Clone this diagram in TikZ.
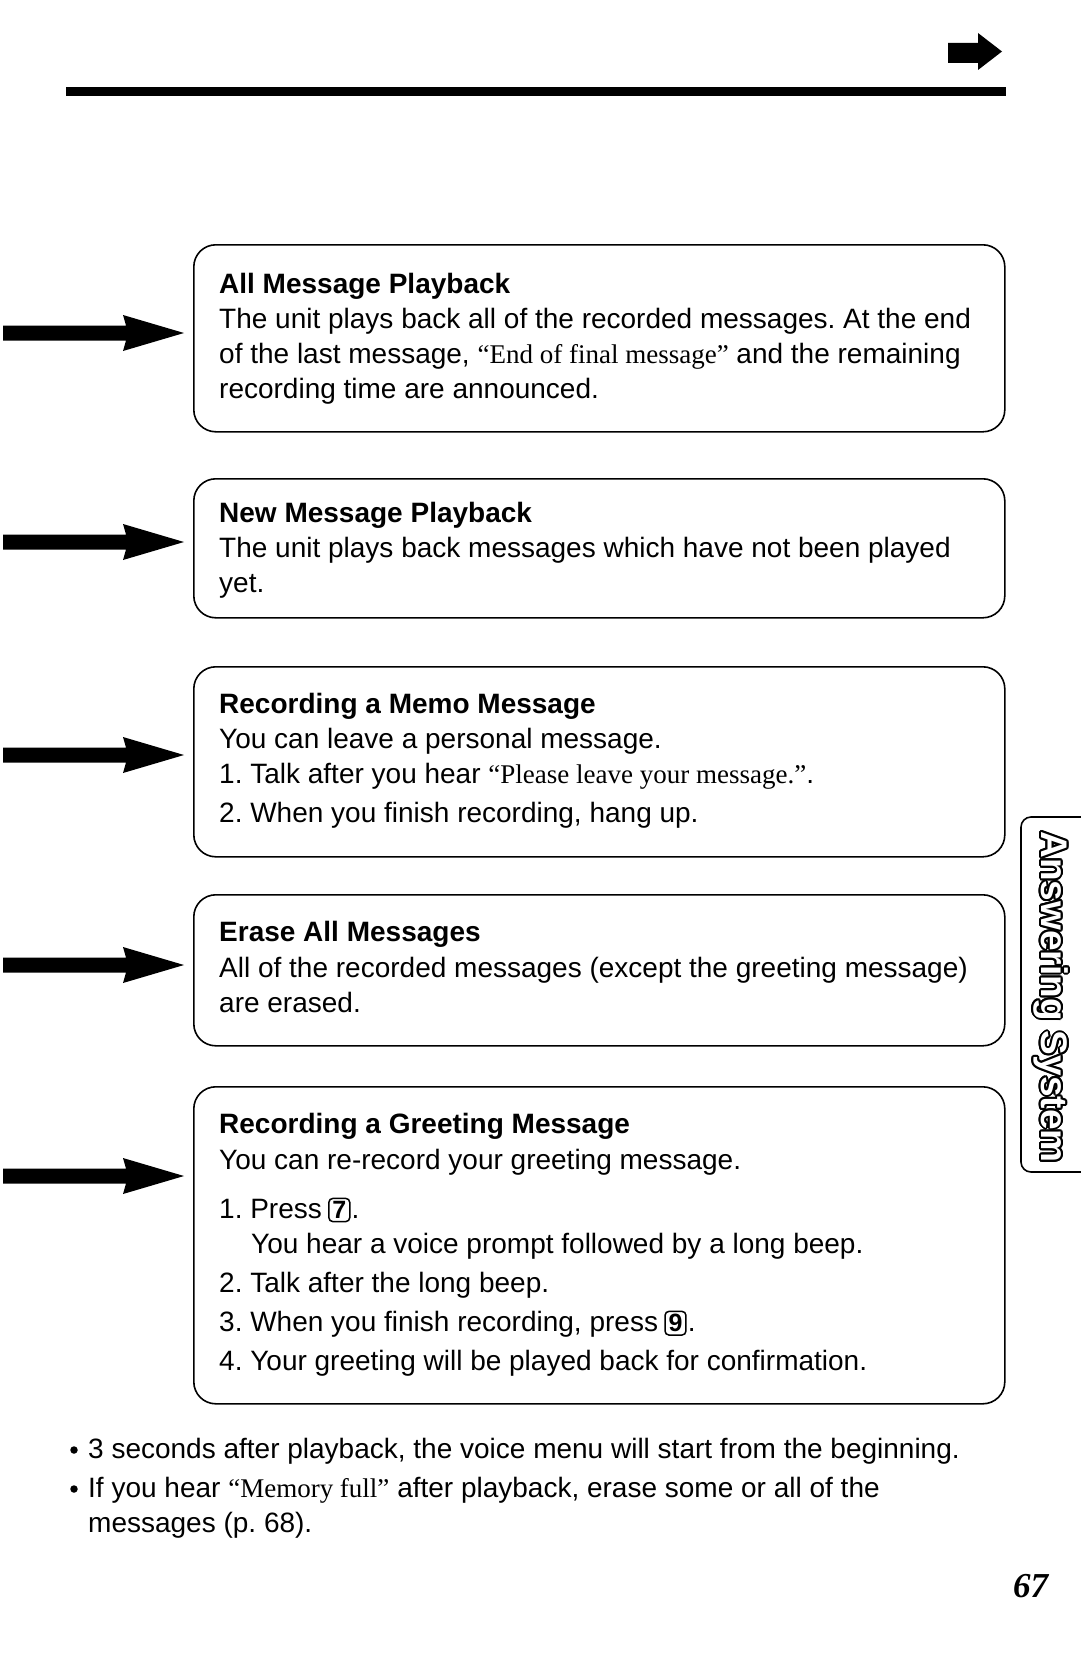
\documentclass[tikz,border=0pt]{standalone}
\usepackage{fontspec}
\setmainfont{Liberation Sans}
\newfontfamily\qf{Liberation Serif}
\newfontfamily\pagenumfont{Liberation Serif}
\usepackage{contour}
\contourlength{2pt}
\frenchspacing
\begin{document}
\begin{tikzpicture}[x=1pt,y=-1pt,
  txt/.style={anchor=base west, inner sep=0pt, font=\fontsize{28}{34}\selectfont},
  ttl/.style={txt, font=\fontsize{28}{34}\selectfont\bfseries},
  panel/.style={draw, line width=1.6pt, rounded corners=22pt, anchor=north west, inner sep=0pt, minimum width=811pt},
  keyb/.style={draw, line width=1.5pt, rounded corners=4pt, inner xsep=3.5pt, inner ysep=3pt, anchor=base west, font=\fontsize{25}{28}\selectfont\bfseries},
  bul/.style={circle, fill=black, inner sep=0pt, minimum size=7.5pt},
  ptrarrow/.pic={\fill (-181,-7.5) -- (-58,-7.5) -- (-61,-18) -- (0,0) -- (-61,18) -- (-58,7.5) -- (-181,7.5) -- cycle;}]

\useasboundingbox (0,0) rectangle (1080,1659);

% header
\fill (66,87) rectangle (1006,96);
\fill (948,43) -- (978,43) -- (978,33) -- (1002,51.5) -- (978,70) -- (978,63) -- (948,63) -- cycle;

% panels
\node[panel, minimum height=187pt] (b1) at (193,244) {};
\node[panel, minimum height=139pt] (b2) at (193,478) {};
\node[panel, minimum height=190pt] (b3) at (193,666) {};
\node[panel, minimum height=151pt] (b4) at (193,894) {};
\node[panel, minimum height=317pt] (b5) at (193,1086) {};

% pointer arrows
\coordinate (a1) at (184,333);
\coordinate (a2) at (184,542);
\coordinate (a3) at (184,755);
\coordinate (a4) at (184,965);
\coordinate (a5) at (184,1176);
\foreach \c in {a1,a2,a3,a4,a5} \pic at (\c) {ptrarrow};

% box 1
\node[ttl] (t11) at (219,293) {All Message Playback};
\node[txt] (t12) at (219,328) {The unit plays back all of the recorded messages. At the end};
\node[txt] (t13) at (219,363) {of the last message, {\qf\fontsize{27}{34}\selectfont “End of final message”} and the remaining};
\node[txt] (t14) at (219,398) {recording time are announced.};

% box 2
\node[ttl] (t21) at (219,522.5) {New Message Playback};
\node[txt] (t22) at (219,557.5) {The unit plays back messages which have not been played};
\node[txt] (t23) at (219,592) {yet.};

% box 3
\node[ttl] (t31) at (219,713) {Recording a Memo Message};
\node[txt] (t32) at (219,748) {You can leave a personal message.};
\node[txt] (t33) at (219,783) {1. Talk after you hear {\qf\fontsize{27}{34}\selectfont “Please leave your message.”}.};
\node[txt] (t34) at (219,822) {2. When you finish recording, hang up.};

% box 4
\node[ttl] (t41) at (219,941.5) {Erase All Messages};
\node[txt] (t42) at (219,977.5) {All of the recorded messages (except the greeting message)};
\node[txt] (t43) at (219,1012) {are erased.};

% box 5
\node[ttl] (t51) at (219,1133) {Recording a Greeting Message};
\node[txt] (t52) at (219,1169) {You can re-record your greeting message.};
\node[txt] (t53) at (219,1218.6) {1. Press};
\node[keyb] (k7) at ([xshift=6pt]t53.base east) {7};
\node[txt] (t53d) at ([xshift=1pt]k7.base east) {.};
\node[txt] (t54) at (251,1253.5) {You hear a voice prompt followed by a long beep.};
\node[txt] (t55) at (219,1292.6) {2. Talk after the long beep.};
\node[txt] (t56) at (219,1331.8) {3. When you finish recording, press};
\node[keyb] (k9) at ([xshift=6pt]t56.base east) {9};
\node[txt] (t56d) at ([xshift=1pt]k9.base east) {.};
\node[txt] (t57) at (219,1370) {4. Your greeting will be played back for confirmation.};

% notes
\node[bul] (d1) at (74,1450) {};
\node[txt] (n1) at (88,1458.7) {3 seconds after playback, the voice menu will start from the beginning.};
\node[bul] (d2) at (74,1489) {};
\node[txt] (n2) at (88,1497.8) {If you hear {\qf\fontsize{27}{34}\selectfont “Memory full”} after playback, erase some or all of the};
\node[txt] (n3) at (88,1532.8) {messages (p. 68).};

% page number
\node[anchor=base west, inner sep=0pt, font=\pagenumfont\bfseries\itshape\fontsize{35}{40}\selectfont] (pn) at (1013,1597) {67};

% side tab
\draw[line width=1.6pt, rounded corners=10pt] (1090,817) -- (1021,817) -- (1021,1172) -- (1090,1172);
\node[rotate=-90, inner sep=0pt, text=white, font=\fontsize{37}{40}\selectfont\bfseries] (tab) at (1050,997) {\contour{black}{Answering System}};
\end{tikzpicture}
\end{document}
